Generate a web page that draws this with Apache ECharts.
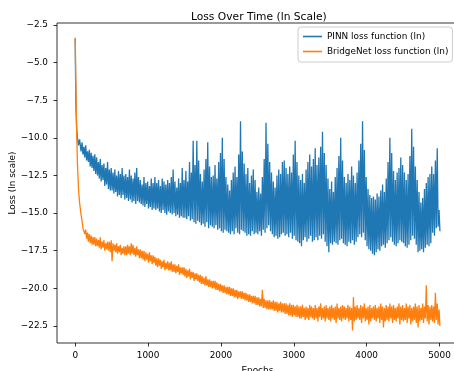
<!DOCTYPE html>
<html>
<head>
<meta charset="utf-8">
<script src="https://cdn.jsdelivr.net/npm/echarts@6/dist/echarts.min.js"></script>
<style>
  html, body { margin: 0; padding: 0; background: #fff; }
  #chart { width: 454px; height: 371px; }
</style>
</head>
<body>
<div id="chart"></div>
<script>
// first epochs read one by one (steep drop), after that the top and bottom
// of the noisy band are read for every 25-epoch slot from epoch 100 to 5000
const earlyEpochs = [0, 5, 10, 20, 30, 45, 60, 80];
const slotStart = 100;
const slotSize = 25;

const pinnEarly = [-3.4, -6.0, -7.8, -9.4, -10.0, -10.5, -10.1, -10.9];
const pinnHigh = [
  -10.3, -10.6, -10.5, -10.9, -10.8, -11.0, -11.2, -11.1,
  -11.3, -11.6, -11.4, -11.8, -11.7, -12.0, -11.6, -12.1,
  -12.0, -12.3, -12.1, -12.5, -12.2, -12.4, -12.0, -12.5,
  -12.4, -12.6, -12.1, -12.5, -12.7, -12.3, -12.0, -12.6,
  -12.8, -13.1, -12.6, -13.0, -12.9, -13.2, -12.7, -13.0,
  -12.6, -13.0, -12.8, -13.2, -12.7, -12.9, -13.1, -12.8,
  -13.0, -12.6, -12.1, -12.9, -13.3, -12.7, -13.0, -12.0,
  -12.8, -12.2, -12.9, -11.6, -12.3, -10.2, -11.8, -10.2,
  -11.5, -12.4, -12.9, -12.1, -11.4, -10.3, -11.9, -12.6,
  -12.5, -11.8, -12.7, -11.6, -11.0, -10.0, -11.4, -12.6,
  -13.1, -13.5, -12.8, -12.3, -11.9, -12.6, -11.1, -8.9,
  -10.9, -11.7, -12.4, -12.0, -13.0, -12.5, -12.1, -12.8,
  -13.6, -13.3, -13.7, -12.6, -11.4, -9.0, -10.4, -11.6,
  -12.3, -12.9, -13.3, -12.5, -12.1, -12.4, -11.6, -11.5,
  -12.0, -12.4, -11.9, -12.3, -11.1, -10.2, -11.6, -12.5,
  -12.8, -12.4, -13.0, -12.1, -11.6, -11.1, -11.9, -11.4,
  -10.7, -11.8, -11.3, -10.6, -9.6, -11.0, -11.8, -12.7,
  -13.4, -12.9, -13.6, -12.6, -12.0, -11.2, -10.0, -11.5,
  -12.6, -13.0, -12.4, -12.8, -11.9, -12.5, -13.0, -12.3,
  -11.5, -10.4, -8.9, -10.8, -12.6, -13.4, -13.8, -14.0,
  -13.9, -14.1, -13.7, -13.9, -13.5, -13.1, -13.6, -12.7,
  -11.6, -10.0, -11.0, -12.2, -12.8, -12.3, -12.0, -11.3,
  -11.8, -12.3, -12.8, -12.4, -11.2, -9.4, -10.6, -11.9,
  -12.8, -13.6, -14.3, -14.0, -13.4, -13.0, -12.6, -12.4,
  -11.9, -12.4, -11.5, -10.7, -14.8
];
const pinnLow = [
  -11.1, -11.3, -11.5, -11.6, -11.9, -12.0, -12.2, -12.4,
  -12.5, -12.7, -12.9, -12.8, -13.2, -13.1, -13.4, -13.5,
  -13.5, -13.7, -13.6, -13.9, -13.8, -14.0, -13.8, -14.1,
  -14.0, -14.2, -14.1, -14.3, -14.2, -14.4, -14.2, -14.3,
  -14.4, -14.5, -14.6, -14.4, -14.7, -14.6, -14.8, -14.7,
  -14.8, -14.7, -14.9, -15.0, -14.8, -15.0, -15.1, -14.9,
  -15.0, -15.1, -15.0, -15.2, -15.1, -15.3, -15.2, -15.3,
  -15.3, -15.4, -15.2, -15.5, -15.4, -15.6, -15.7, -15.5,
  -15.6, -15.8, -15.7, -15.9, -15.6, -16.0, -15.8, -15.9,
  -16.0, -15.8, -16.1, -16.0, -16.2, -16.3, -16.1, -16.2,
  -16.3, -16.4, -16.2, -16.4, -16.0, -16.3, -16.4, -16.1,
  -16.2, -16.3, -16.5, -16.4, -16.5, -16.2, -16.4, -16.3,
  -16.4, -16.2, -16.5, -16.1, -16.3, -16.0, -15.8, -16.2,
  -16.4, -16.6, -16.5, -16.7, -16.6, -16.4, -16.3, -16.5,
  -16.4, -16.6, -16.3, -16.7, -16.5, -16.8, -16.9, -17.0,
  -17.2, -16.8, -16.6, -16.9, -16.7, -16.5, -16.9, -16.8,
  -16.6, -16.8, -16.5, -16.7, -16.4, -16.9, -17.2, -17.6,
  -17.0, -17.1, -16.9, -17.0, -17.1, -16.8, -16.7, -17.0,
  -17.1, -17.2, -16.9, -17.0, -16.8, -17.1, -16.9, -16.6,
  -16.4, -16.6, -16.3, -16.8, -17.2, -17.4, -17.5, -17.7,
  -17.8, -17.6, -17.4, -17.5, -17.2, -17.1, -17.3, -17.0,
  -16.8, -16.6, -16.9, -17.1, -17.2, -17.0, -16.8, -16.9,
  -17.0, -17.2, -17.3, -17.1, -16.8, -16.5, -16.7, -17.1,
  -17.6, -17.5, -17.4, -17.6, -17.3, -17.1, -17.2, -17.0,
  -16.3, -16.5, -16.0, -15.9, -16.2
];

const bridgeEarly = [-3.35, -5.1, -6.9, -9.6, -11.6, -13.4, -14.3, -15.1];
const bridgeHigh = [
  -15.5, -15.9, -16.1, -16.3, -16.4, -16.5, -16.6, -16.6,
  -16.7, -16.8, -16.6, -16.9, -16.8, -17.0, -16.9, -16.9,
  -16.8, -17.0, -17.1, -17.0, -17.2, -17.1, -17.3, -17.2,
  -17.2, -17.1, -17.2, -17.0, -17.1, -17.3, -17.2, -17.4,
  -17.4, -17.5, -17.5, -17.6, -17.7, -17.6, -17.8, -17.8,
  -17.9, -18.0, -18.0, -18.1, -18.2, -18.1, -18.3, -18.2,
  -18.3, -18.2, -18.4, -18.4, -18.5, -18.4, -18.6, -18.6,
  -18.6, -18.7, -18.8, -18.7, -18.9, -18.9, -19.0, -19.0,
  -19.1, -19.1, -19.2, -19.3, -19.2, -19.4, -19.4, -19.5,
  -19.5, -19.5, -19.6, -19.7, -19.7, -19.8, -19.8, -19.9,
  -19.9, -19.9, -20.0, -20.0, -20.1, -20.1, -20.2, -20.2,
  -20.2, -20.3, -20.3, -20.4, -20.4, -20.5, -20.5, -20.5,
  -20.6, -20.6, -20.7, -20.1, -20.7, -20.8, -20.8, -20.8,
  -20.9, -20.8, -20.9, -20.9, -21.0, -20.9, -21.0, -21.0,
  -21.0, -21.1, -21.0, -21.1, -21.1, -21.2, -21.1, -21.2,
  -21.2, -21.1, -21.3, -21.2, -21.3, -21.1, -21.2, -21.3,
  -21.1, -21.3, -21.2, -21.0, -21.3, -21.2, -21.1, -21.3,
  -21.2, -21.1, -21.3, -21.2, -21.0, -21.3, -21.2, -21.1,
  -21.2, -21.3, -21.1, -21.2, -21.3, -20.6, -21.2, -21.1,
  -21.3, -21.1, -21.2, -21.0, -21.3, -21.2, -21.1, -21.3,
  -21.2, -21.1, -21.3, -21.2, -21.0, -21.2, -21.3, -21.1,
  -21.2, -21.0, -21.2, -21.1, -21.3, -21.2, -21.0, -21.2,
  -21.1, -21.3, -21.0, -21.2, -21.1, -21.3, -21.2, -21.0,
  -21.2, -21.1, -21.3, -21.0, -21.2, -19.8, -21.1, -21.2,
  -21.1, -21.2, -20.3, -21.0, -21.4
];
const bridgeLow = [
  -16.0, -16.4, -16.7, -16.9, -17.0, -17.1, -17.1, -17.2,
  -17.2, -17.3, -17.4, -17.3, -17.5, -17.4, -17.5, -17.6,
  -18.2, -17.5, -17.6, -17.7, -17.6, -17.8, -17.7, -17.8,
  -17.8, -17.7, -17.8, -17.7, -17.8, -17.9, -17.8, -18.0,
  -18.0, -18.1, -18.2, -18.1, -18.3, -18.2, -18.4, -18.3,
  -18.5, -18.6, -18.5, -18.7, -18.6, -18.8, -18.7, -18.8,
  -18.8, -18.9, -18.9, -19.0, -18.9, -19.1, -19.0, -19.1,
  -19.2, -19.3, -19.2, -19.4, -19.3, -19.5, -19.4, -19.5,
  -19.6, -19.7, -19.7, -19.8, -19.8, -19.9, -19.9, -20.0,
  -20.0, -20.1, -20.1, -20.2, -20.2, -20.3, -20.3, -20.4,
  -20.4, -20.5, -20.5, -20.6, -20.6, -20.7, -20.6, -20.7,
  -20.7, -20.8, -20.8, -20.9, -20.9, -21.0, -21.0, -21.1,
  -21.1, -21.2, -21.2, -21.3, -21.3, -21.4, -21.4, -21.4,
  -21.4, -21.5, -21.5, -21.6, -21.5, -21.6, -21.6, -21.7,
  -21.7, -21.8, -21.8, -21.9, -21.8, -21.9, -21.9, -22.0,
  -22.0, -21.9, -22.1, -22.0, -22.1, -21.9, -22.0, -22.1,
  -22.0, -22.2, -21.9, -22.1, -22.0, -22.2, -22.0, -22.1,
  -22.2, -22.0, -22.1, -22.3, -22.0, -22.1, -22.2, -22.0,
  -22.1, -22.0, -22.2, -22.1, -22.8, -22.2, -22.1, -22.0,
  -22.1, -22.3, -22.0, -22.2, -22.1, -22.4, -22.2, -22.0,
  -22.1, -22.2, -22.0, -22.3, -22.1, -22.6, -22.2, -22.1,
  -22.2, -22.0, -22.3, -22.1, -22.2, -22.0, -22.4, -22.1,
  -22.2, -22.1, -22.3, -22.0, -22.4, -22.2, -22.1, -22.3,
  -22.6, -22.2, -22.1, -22.3, -22.0, -22.2, -22.4, -22.1,
  -22.2, -22.3, -22.1, -22.4, -22.5
];

const xTicks = [0, 1000, 2000, 3000, 4000, 5000];
const yTicks = [-22.5, -20.0, -17.5, -15.0, -12.5, -10.0, -7.5, -5.0, -2.5];

// early points, then high and low of each slot placed either side of its epoch
function toPoints(early, high, low) {
    const pts = early.map((v, i) => [earlyEpochs[i], v]);
    high.forEach((h, i) => {
        const e = slotStart + i * slotSize;
        pts.push([e - 6, h]);
        pts.push([e + 6, low[i]]);
    });
    return pts;
}

const font = 'DejaVu Sans';
const chart = echarts.init(document.getElementById('chart'), null, { renderer: 'canvas' });

chart.setOption({
    animation: false,
    backgroundColor: '#ffffff',
    textStyle: { fontFamily: font, color: '#000' },
    title: {
        text: 'Loss Over Time (ln Scale)',
        left: 186,
        top: 7,
        textStyle: { fontFamily: font, fontSize: 10.7, fontWeight: 'normal', color: '#000' }
    },
    legend: {
        orient: 'vertical',
        left: 298,
        top: 27,
        padding: [4, 4, 5, 5],
        itemWidth: 19,
        itemHeight: 1.6,
        itemGap: 4,
        icon: 'rect',
        backgroundColor: 'rgba(255,255,255,0.8)',
        borderColor: '#cccccc',
        borderWidth: 1,
        borderRadius: 3,
        textStyle: { fontFamily: font, fontSize: 8.9, lineHeight: 11, color: '#000' },
        data: ['PINN loss function (ln)', 'BridgeNet loss function (ln)']
    },
    grid: {
        left: 57,
        top: 23,
        width: 400.7,
        height: 320,
        outerBoundsMode: 'none',
        containLabel: false,
        show: true,
        borderColor: '#000',
        borderWidth: 0.8,
        backgroundColor: 'transparent'
    },
    xAxis: {
        type: 'value',
        min: -250,
        max: 5250,
        name: 'Epochs',
        nameLocation: 'middle',
        nameGap: 23,
        nameMoveOverlap: false,
        nameTextStyle: { fontFamily: font, fontSize: 8.9, color: '#000' },
        axisLine: { show: false, onZero: false },
        splitLine: { show: false },
        axisTick: { show: true, inside: false, length: 3.5, lineStyle: { color: '#000', width: 0.8 }, customValues: xTicks },
        axisLabel: {
            margin: 8,
            fontFamily: font,
            fontSize: 8.9,
            color: '#000',
            customValues: xTicks,
            formatter: v => String(v)
        }
    },
    yAxis: {
        type: 'value',
        min: -23.63,
        max: -2.37,
        name: 'Loss (ln scale)',
        nameLocation: 'middle',
        nameGap: 40,
        nameRotate: 90,
        nameMoveOverlap: false,
        nameTextStyle: { fontFamily: font, fontSize: 8.9, color: '#000' },
        axisLine: { show: false, onZero: false },
        splitLine: { show: false },
        axisTick: { show: true, inside: false, length: 3.5, lineStyle: { color: '#000', width: 0.8 }, customValues: yTicks },
        axisLabel: {
            margin: 9,
            fontFamily: font,
            fontSize: 8.9,
            color: '#000',
            customValues: yTicks,
            formatter: v => v.toFixed(1).replace('-', '\u2212')
        }
    },
    series: [
        {
            name: 'PINN loss function (ln)',
            type: 'line',
            data: toPoints(pinnEarly, pinnHigh, pinnLow),
            showSymbol: false,
            symbol: 'none',
            sampling: null,
            lineStyle: { color: '#1f77b4', width: 1.3 },
            itemStyle: { color: '#1f77b4' }
        },
        {
            name: 'BridgeNet loss function (ln)',
            type: 'line',
            data: toPoints(bridgeEarly, bridgeHigh, bridgeLow),
            showSymbol: false,
            symbol: 'none',
            sampling: null,
            lineStyle: { color: '#ff7f0e', width: 1.3 },
            itemStyle: { color: '#ff7f0e' }
        }
    ]
});
</script>
</body>
</html>
